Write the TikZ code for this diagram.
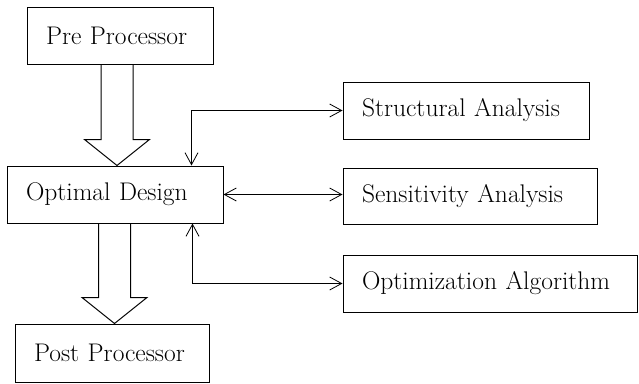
\documentclass[tikz,border=0pt]{standalone}
\usetikzlibrary{arrows.meta}
\usetikzlibrary{calc}
\usetikzlibrary{positioning}

\tikzset{
  box/.style={draw,line width=1pt,rectangle,align=left,inner xsep=19pt,text width=#1,font=\fontsize{25.5}{28}\selectfont},
  link/.style={line width=1pt,{Straight Barb[length=12pt,width=13pt,line width=0.8pt]}-{Straight Barb[length=12pt,width=13pt,line width=0.8pt]}},
  hollow/.style={line width=1pt,line join=miter}
}

\begin{document}
\begin{tikzpicture}[x=1pt,y=-1pt]
\useasboundingbox (0,0) rectangle (639,383);

% main blocks on the left
\node[box=148pt,minimum height=57pt] (pre) at (120,35.5) {Pre Processor};
\node[box=178pt,minimum height=57pt] (opt) at (115,194.5) {Optimal Design};
\node[box=156pt,minimum height=58pt] (post) at (112,353) {Post Processor};

% analysis modules on the right
\node[box=208pt,minimum height=57pt] (struct) at (466,110.5) {Structural Analysis};
\node[box=216pt,minimum height=56pt] (sens) at (470,196) {Sensitivity Analysis};
\node[box=256pt,minimum height=57pt] (algo) at (490,283.5) {Optimization Algorithm};

% wide hollow arrows
\coordinate (tipA) at ($(opt.north)+(2,0)$);
\draw[hollow] ($(pre.south -| tipA)+(-16,0)$) -- ($(tipA)+(-16,-26)$) -- ($(tipA)+(-32.5,-26)$)
  -- (tipA) -- ($(tipA)+(32.5,-26)$) -- ($(tipA)+(16,-26)$) -- ($(pre.south -| tipA)+(16,0)$);
\coordinate (tipB) at ($(post.north)+(2.5,0)$);
\draw[hollow] ($(opt.south -| tipB)+(-16,0)$) -- ($(tipB)+(-16,-26)$) -- ($(tipB)+(-32.5,-26)$)
  -- (tipB) -- ($(tipB)+(32.5,-26)$) -- ($(tipB)+(16,-26)$) -- ($(opt.south -| tipB)+(16,0)$);

% two-way links
\draw[link] (struct.west) -| ($(opt.north east)+(-32,0)$);
\draw[link] (opt.east) -- (opt.east -| sens.west);
\draw[link] ($(opt.south east)+(-31,0)$) |- (algo.west);

\end{tikzpicture}
\end{document}
